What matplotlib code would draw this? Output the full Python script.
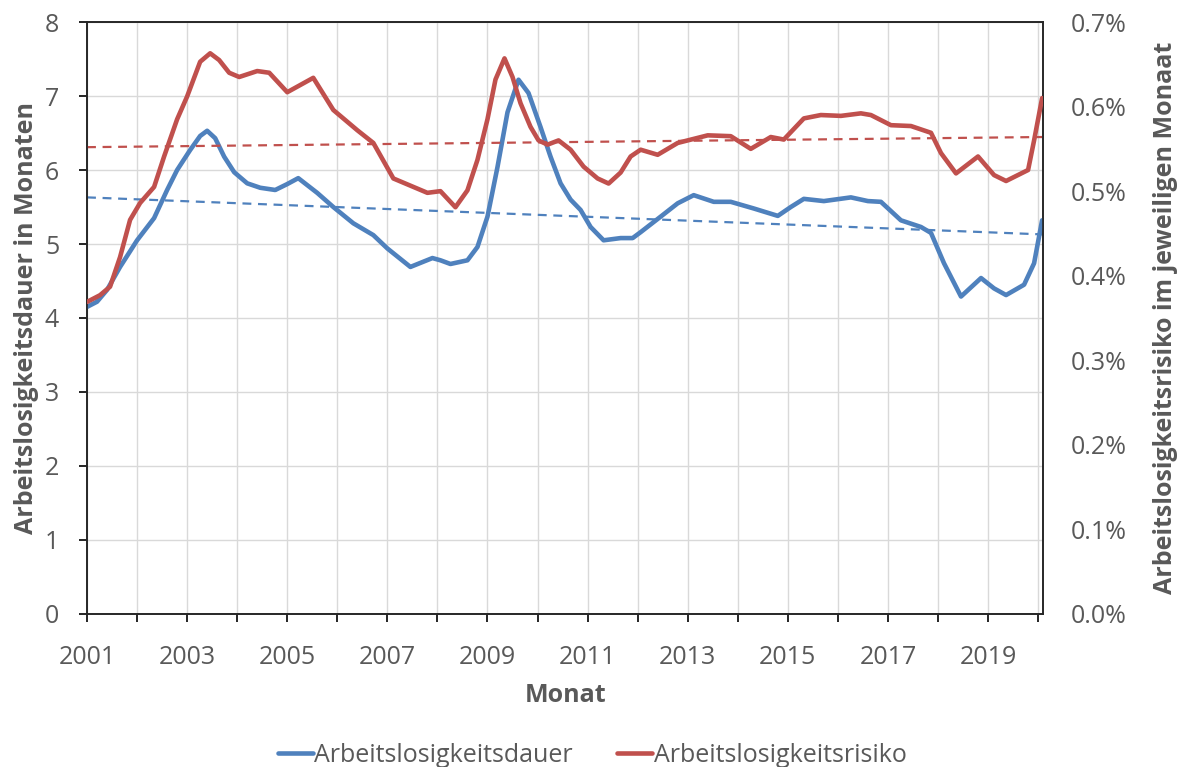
import numpy as np
import matplotlib
matplotlib.use("Agg")
import matplotlib.pyplot as plt
import matplotlib.ticker as ticker

# ---- data ----
jahr_dauer = [2001.0, 2001.2, 2001.4, 2001.66, 2002.0, 2002.34, 2002.6, 2002.8, 2003.06,
              2003.26, 2003.4, 2003.56, 2003.74, 2003.94, 2004.2, 2004.46, 2004.76, 2005.0,
              2005.22, 2005.6, 2005.92, 2006.32, 2006.72, 2007.0, 2007.46, 2007.9, 2008.06,
              2008.26, 2008.6, 2008.8, 2009.0, 2009.2, 2009.4, 2009.62, 2009.82, 2010.06,
              2010.26, 2010.46, 2010.66, 2010.86, 2011.06, 2011.32, 2011.66, 2011.9, 2012.06,
              2012.46, 2012.8, 2013.12, 2013.52, 2013.86, 2014.32, 2014.8, 2015.06, 2015.32,
              2015.72, 2016.26, 2016.6, 2016.86, 2017.26, 2017.66, 2017.86, 2018.12, 2018.46,
              2018.86, 2019.12, 2019.36, 2019.72, 2019.92, 2020.08]
dauer = [4.15, 4.22, 4.38, 4.69, 5.05, 5.35, 5.73, 6.00, 6.27,
         6.46, 6.53, 6.43, 6.18, 5.97, 5.82, 5.76, 5.73, 5.81,
         5.89, 5.69, 5.50, 5.28, 5.12, 4.94, 4.69, 4.81, 4.78,
         4.73, 4.78, 4.96, 5.37, 6.04, 6.78, 7.22, 7.04, 6.58,
         6.18, 5.82, 5.60, 5.46, 5.23, 5.05, 5.08, 5.08, 5.16,
         5.37, 5.55, 5.66, 5.57, 5.57, 5.48, 5.38, 5.50, 5.61,
         5.58, 5.63, 5.58, 5.57, 5.32, 5.23, 5.15, 4.74, 4.29,
         4.54, 4.40, 4.31, 4.45, 4.74, 5.32]

jahr_risiko = [2001.0, 2001.26, 2001.46, 2001.66, 2001.86, 2002.06, 2002.34, 2002.54, 2002.8,
               2003.0, 2003.26, 2003.46, 2003.64, 2003.84, 2004.04, 2004.4, 2004.64, 2005.0,
               2005.52, 2005.92, 2006.4, 2006.72, 2007.12, 2007.52, 2007.8, 2008.06, 2008.36,
               2008.6, 2008.8, 2009.0, 2009.16, 2009.34, 2009.5, 2009.66, 2009.86, 2010.02,
               2010.2, 2010.42, 2010.66, 2010.92, 2011.2, 2011.42, 2011.66, 2011.86, 2012.06,
               2012.4, 2012.8, 2013.4, 2013.86, 2014.26, 2014.66, 2014.92, 2015.32, 2015.66,
               2016.06, 2016.46, 2016.66, 2017.06, 2017.46, 2017.86, 2018.06, 2018.36, 2018.8,
               2019.12, 2019.36, 2019.8, 2019.92, 2020.08]
# Risiko in Prozent
risiko = [0.369, 0.377, 0.387, 0.422, 0.466, 0.486, 0.505, 0.541, 0.585,
          0.612, 0.653, 0.663, 0.655, 0.640, 0.635, 0.642, 0.640, 0.617,
          0.634, 0.596, 0.572, 0.557, 0.515, 0.505, 0.498, 0.500, 0.481,
          0.501, 0.537, 0.585, 0.632, 0.657, 0.635, 0.604, 0.576, 0.560,
          0.555, 0.560, 0.549, 0.529, 0.515, 0.509, 0.522, 0.541, 0.549,
          0.543, 0.557, 0.566, 0.565, 0.550, 0.564, 0.561, 0.586, 0.590,
          0.589, 0.592, 0.590, 0.578, 0.577, 0.569, 0.545, 0.521, 0.541,
          0.519, 0.512, 0.525, 0.560, 0.610]

trend_jahre = [2001.0, 2020.08]
trend_dauer = [5.63, 5.13]
trend_risiko = [0.552, 0.564]

years = list(range(2001, 2021))
labels = [str(y) if (y - 2001) % 2 == 0 else "" for y in years]

# ---- plot ----
plt.rcParams['font.family'] = ['Open Sans', 'DejaVu Sans']
grau = '#595959'
blau = '#4F81BD'
rot = '#C0504D'

fig = plt.figure(figsize=(11.84, 7.67), dpi=100)
ax = fig.add_axes([0.0735, 0.1995, 0.8075, 0.7718])
ax2 = ax.twinx()

ax.plot(jahr_dauer, dauer, color=blau, lw=3.3, solid_capstyle='round',
        solid_joinstyle='round', zorder=3, label='Arbeitslosigkeitsdauer')
ax.plot(trend_jahre, trend_dauer, color=blau, lw=1.6, ls=(0, (4, 3)), zorder=2)
ax2.plot(jahr_risiko, risiko, color=rot, lw=3.3, solid_capstyle='round',
         solid_joinstyle='round', zorder=3, label='Arbeitslosigkeitsrisiko')
ax2.plot(trend_jahre, trend_risiko, color=rot, lw=1.6, ls=(0, (4, 3)), zorder=2)

ax.set_xlim(2001, 2020.1)
ax.set_ylim(0, 8)
ax2.set_ylim(0, 0.7)

ax.set_xticks(years)
ax.set_xticklabels(labels)
ax.yaxis.set_major_locator(ticker.MultipleLocator(1))
ax2.yaxis.set_major_locator(ticker.MultipleLocator(0.1))
ax2.yaxis.set_major_formatter(ticker.FuncFormatter(lambda v, p: f"{v:.1f}%"))

ax.grid(True, color='#d9d9d9', lw=1.0, zorder=0)
ax.set_axisbelow(True)

for a in (ax, ax2):
    for s in a.spines.values():
        s.set_color('#262626')
        s.set_linewidth(1.2)
ax.tick_params(axis='both', colors='black', labelcolor=grau, labelsize=18, length=6, width=1.2)
ax2.tick_params(axis='y', colors='black', labelcolor=grau, labelsize=18, length=0, pad=20)
ax.tick_params(axis='x', pad=16)
ax.tick_params(axis='y', pad=14)

ax.set_xlabel('Monat', fontsize=18, fontweight='bold', color=grau, labelpad=10)
ax.set_ylabel('Arbeitslosigkeitsdauer in Monaten', fontsize=18, fontweight='bold', color=grau,
              labelpad=4)
ax2.set_ylabel('Arbeitslosigkeitsrisiko im jeweiligen Monaat', fontsize=18, fontweight='bold',
               color=grau, labelpad=19)

h1, l1 = ax.get_legend_handles_labels()
h2, l2 = ax2.get_legend_handles_labels()
fig.legend(h1 + h2, l1 + l2, loc='lower center', bbox_to_anchor=(0.5, -0.03), ncol=2,
           frameon=False, fontsize=18, labelcolor=grau, handlelength=1.4, handletextpad=0.05,
           columnspacing=1.8)

fig.savefig('out.png', dpi=100)
